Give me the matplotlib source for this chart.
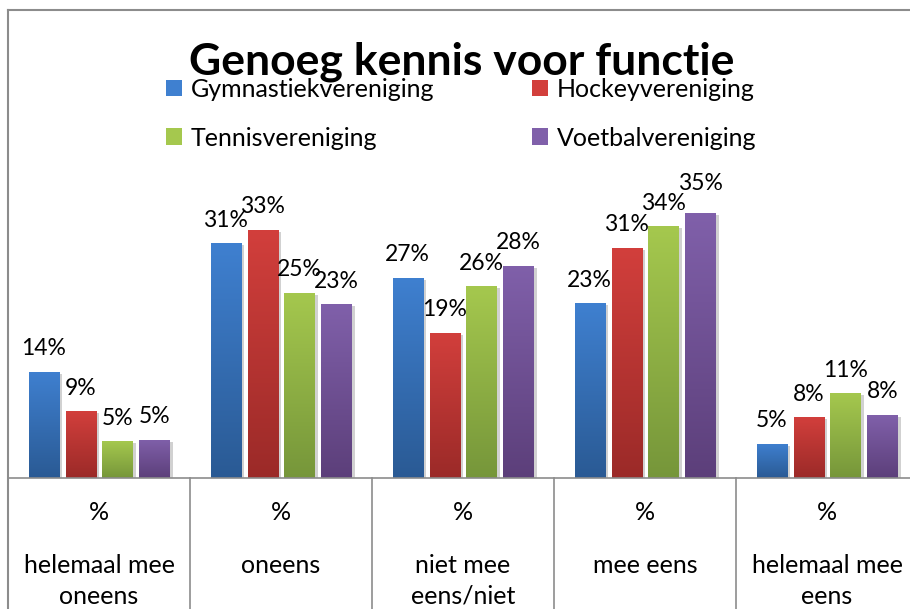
import numpy as np
import matplotlib
matplotlib.use("Agg")
import matplotlib.pyplot as plt
from matplotlib.colors import LinearSegmentedColormap
from matplotlib.lines import Line2D
from matplotlib.patches import Patch
import matplotlib.patheffects as pe

plt.rcParams['font.family'] = ['Lato', 'DejaVu Sans']

title = "Genoeg kennis voor functie"
unit_label = "%"
categories = ["helemaal mee\noneens", "oneens", "niet mee\neens/niet",
              "mee eens", "helemaal mee\neens"]
series_names = ["Gymnastiekvereniging", "Hockeyvereniging", "Tennisvereniging", "Voetbalvereniging"]
# bar heights (labels show them rounded)
gymnastiek = [14.2, 31.3, 26.7, 23.3, 4.6]
hockey = [8.9, 33.1, 19.4, 30.7, 8.1]
tennis = [4.9, 24.7, 25.6, 33.6, 11.3]
voetbal = [5.1, 23.2, 28.3, 35.3, 8.4]
values = [gymnastiek, hockey, tennis, voetbal]

top_colors = ["#3F80D0", "#D23F3C", "#A5C84E", "#8060AA"]
bot_colors = ["#2A5A94", "#9B2A28", "#76963A", "#5C3F7A"]

# extra lift (points) for labels that the original moved to avoid a clash
label_lift = {(3, 3): 5}

W, H = 910, 609
fig = plt.figure(figsize=(W / 100, H / 100), dpi=100)
ax_h = 300.0
ax = fig.add_axes([8 / W, (H - 478) / H, 910 / W, ax_h / H])

x = np.arange(len(categories))
step = 0.203
bw = 0.165
grad = np.linspace(0, 1, 256).reshape(-1, 1)
for k, (vals, tc, bc) in enumerate(zip(values, top_colors, bot_colors)):
    pos = x + (k - 1.5) * step
    bars = ax.bar(pos, vals, width=bw, color=tc, zorder=2, label=series_names[k],
                  path_effects=[pe.SimplePatchShadow(offset=(2.5, -1.5), shadow_rgbFace='#000000', alpha=0.18),
                                pe.Normal()])
    cmap = LinearSegmentedColormap.from_list("g%d" % k, [bc, tc])
    for j, (b, v) in enumerate(zip(bars, vals)):
        x0, y0, w, h = b.get_x(), b.get_y(), b.get_width(), b.get_height()
        im = ax.imshow(grad, extent=[x0, x0 + w, y0, y0 + h], origin='lower', cmap=cmap,
                       aspect='auto', zorder=3, interpolation='bilinear')
        im.set_clip_path(b)
        ax.annotate(f"{v:.0f}%", (x0 + w / 2, y0 + h), xytext=(0, 9 + label_lift.get((j, k), 0)),
                    textcoords='offset points', ha='center', va='bottom', fontsize=16.5,
                    color='#000000', zorder=5)

ax.set_xlim(-0.5, 4.5)
ax.set_ylim(0, 40)
for s in ax.spines.values():
    s.set_visible(False)
ax.set_yticks([])
ax.set_xticks(x)
ax.set_xticklabels(categories, fontsize=18, linespacing=1.38)
ax.tick_params(axis='x', length=0, pad=55)
trans = ax.get_xaxis_transform()
for xi in x:
    ax.text(xi, -35 / ax_h, unit_label, transform=trans, ha='center', va='center', fontsize=18)
ax.axhline(0, color='#8C8C8C', lw=1.2, zorder=4, clip_on=False)
for b in np.arange(-0.5, 5.0, 1.0):
    ax.plot([b, b], [0, -0.6], transform=trans, color='#8C8C8C', lw=1.2, clip_on=False, zorder=4)

# chart border (left and top)
fig.add_artist(Line2D([7.5 / W, 7.5 / W], [0, (H - 10) / H], color='#8C8C8C', lw=1.5))
fig.add_artist(Line2D([7.5 / W, 1.0], [(H - 10) / H, (H - 10) / H], color='#8C8C8C', lw=1.5))

fig.text(462 / W, (H - 74) / H, title, ha='center', va='baseline', fontsize=32, fontweight='bold')

handles = [Patch(facecolor=c) for c in top_colors]
order = [0, 2, 1, 3]
leg = fig.legend([handles[i] for i in order], [series_names[i] for i in order], ncol=2,
                 loc='upper left', bbox_to_anchor=(166 / W, (H - 78) / H),
                 frameon=False, fontsize=18, handlelength=0.64, handleheight=0.64, handletextpad=0.35,
                 labelspacing=1.02, columnspacing=3.9, borderpad=0, borderaxespad=0)

fig.savefig("out.png", dpi=100)
